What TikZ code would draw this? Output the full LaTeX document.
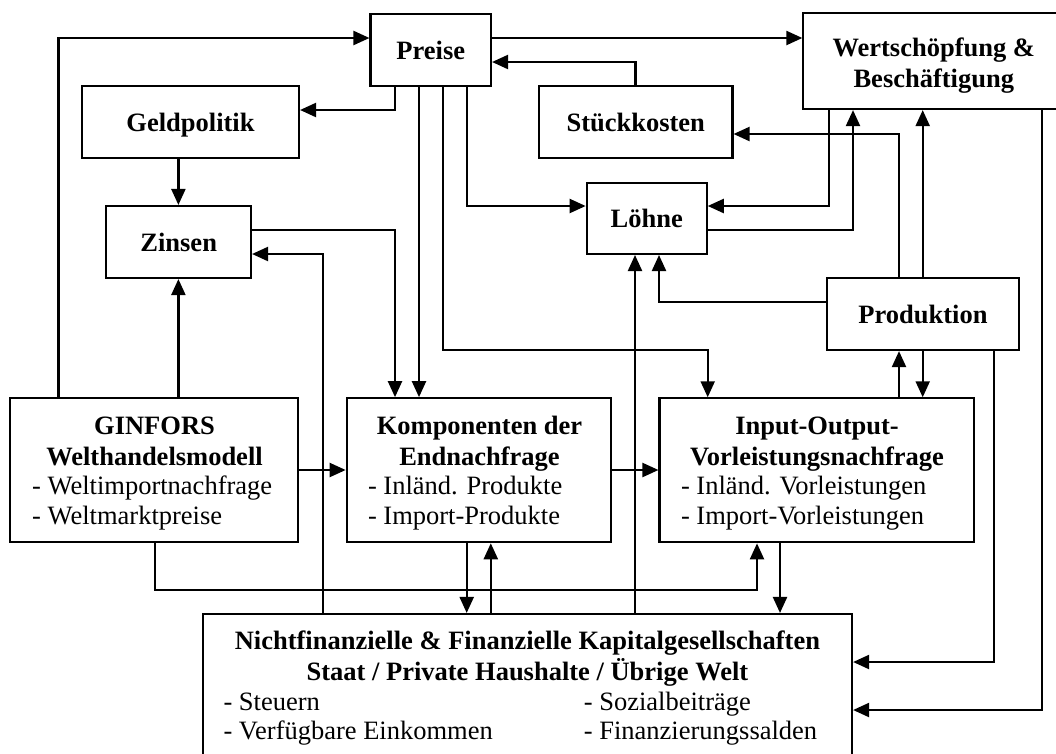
\documentclass[tikz,border=0pt]{standalone}
\usepackage{fontspec}
\setmainfont{Liberation Serif}
\usetikzlibrary{arrows.meta}
\newcommand{\diagfont}{\fontsize{26.5pt}{30pt}\selectfont}
\begin{document}
\begin{tikzpicture}[x=1pt,y=-1pt,
  box/.style={draw, line width=2.1pt, inner sep=0pt, text height=18pt, text depth=0pt, font=\diagfont\bfseries},
  arr/.style={line width=2.2pt, -{Triangle[length=16pt,width=14pt]}},
  title/.style={inner sep=0pt, anchor=base, font=\diagfont\bfseries},
  item/.style={inner sep=0pt, anchor=base west, font=\diagfont}]
\useasboundingbox (0,0) rectangle (1056,753);
\clip (0,0) rectangle (1056,753);

% boxes
\node[box, minimum width=120.5pt, minimum height=72pt] (preise) at (430.75,50) {Preise};
\node[box, minimum width=217pt, minimum height=72pt] (geld) at (190.5,122) {Geldpolitik};
\node[box, minimum width=144.6pt, minimum height=72pt] (zinsen) at (178.7,242) {Zinsen};
\node[box, minimum width=260.6pt, minimum height=95.7pt] (wert) at (933.7,61.2) {};
\node[box, minimum width=193.5pt, minimum height=72pt] (stueck) at (635.75,122) {Stückkosten};
\node[box, minimum width=120pt, minimum height=71.3pt] (loehne) at (646.7,218.3) {Löhne};
\node[box, minimum width=192.6pt, minimum height=71.7pt] (prod) at (923,314.2) {Produktion};
\node[box, minimum width=288pt, minimum height=144pt] (ginfors) at (154.3,470.2) {};
\node[box, minimum width=264.6pt, minimum height=144pt] (komp) at (479,470.2) {};
\node[box, minimum width=314.4pt, minimum height=144pt] (io) at (816.7,470.3) {};
\node[box, minimum width=649.3pt, minimum height=172pt] (bottom) at (527.4,700) {};

% box texts
\node[title] (w1) at (933.8,56) {Wertschöpfung \&};
\node[title] (w2) at (933.8,87.3) {Beschäftigung};

\node[title] (g1) at (154.5,434) {GINFORS};
\node[title] (g2) at (154.5,465) {Welthandelsmodell};
\node[item] (g3) at (32,494) {- Weltimportnachfrage};
\node[item] (g4) at (32,524) {- Weltmarktpreise};

\node[title] (k1) at (479.5,434) {Komponenten der};
\node[title] (k2) at (479.5,465) {Endnachfrage};
\node[item] (k3) at (367.8,494) {- Inländ. Produkte};
\node[item] (k4) at (367.8,524) {- Import-Produkte};

\node[title] (i1) at (817,434) {Input-Output-};
\node[title] (i2) at (817,465) {Vorleistungsnachfrage};
\node[item] (i3) at (680.8,494) {- Inländ. Vorleistungen};
\node[item] (i4) at (680.8,524) {- Import-Vorleistungen};

\node[title] (b1) at (527.4,649.3) {Nichtfinanzielle \& Finanzielle Kapitalgesellschaften};
\node[title] (b2) at (527.4,680) {Staat / Private Haushalte / Übrige Welt};
\node[item] (b3) at (223.3,710) {- Steuern};
\node[item] (b4) at (223.3,739) {- Verfügbare Einkommen};
\node[item] (b5) at (583.7,710) {- Sozialbeiträge};
\node[item] (b6) at (583.7,739) {- Finanzierungssalden};

% connectors
\draw[arr] (ginfors.north -| 58.5,0) |- (preise.west |- 0,38);
\draw[arr] (ginfors.north -| 178.4,0) -- (zinsen.south -| 178.4,0);
\draw[arr] (geld.south -| 178.4,0) -- (zinsen.north -| 178.4,0);
\draw[arr] (preise.south -| 395,0) |- (geld.east |- 0,110);
\draw[arr] (zinsen.east |- 0,230) -| (komp.north -| 395,0);
\draw[arr] (preise.south -| 419,0) -- (komp.north -| 419,0);
\draw[arr] (bottom.north -| 323,0) |- (zinsen.east |- 0,254);
\draw[arr] (preise.south -| 442.7,0) |- (707.7,350) -- (io.north -| 707.7,0);
\draw[arr] (preise.south -| 466.7,0) |- (loehne.west |- 0,206);
\draw[arr] (preise.east |- 0,38) -- (wert.west |- 0,38);
\draw[arr] (stueck.north -| 635.4,0) |- (preise.east |- 0,62);
\draw[arr] (wert.south -| 828.9,0) |- (loehne.east |- 0,206);
\draw[arr] (loehne.east |- 0,230) -| (wert.south -| 853,0);
\draw[arr] (prod.north -| 899,0) |- (stueck.east |- 0,134);
\draw[arr] (prod.north -| 922.7,0) -- (wert.south -| 922.7,0);
\draw[arr] (prod.west |- 0,302.3) -| (loehne.south -| 659,0);
\draw[arr] (bottom.north -| 635,0) -- (loehne.south -| 635,0);
\draw[arr] (wert.south -| 1042,0) |- (bottom.east |- 0,710);
\draw[arr] (prod.south -| 994.3,0) |- (bottom.east |- 0,662);
\draw[arr] (io.north -| 899,0) -- (prod.south -| 899,0);
\draw[arr] (prod.south -| 922.7,0) -- (io.north -| 922.7,0);
\draw[arr] (ginfors.east |- 0,470) -- (komp.west |- 0,470);
\draw[arr] (komp.east |- 0,470) -- (io.west |- 0,470);
\draw[arr] (ginfors.south -| 155,0) |- (757,590) -- (io.south -| 757,0);
\draw[arr] (komp.south -| 466.7,0) -- (bottom.north -| 466.7,0);
\draw[arr] (bottom.north -| 490.8,0) -- (komp.south -| 490.8,0);
\draw[arr] (io.south -| 780,0) -- (bottom.north -| 780,0);
\end{tikzpicture}
\end{document}
